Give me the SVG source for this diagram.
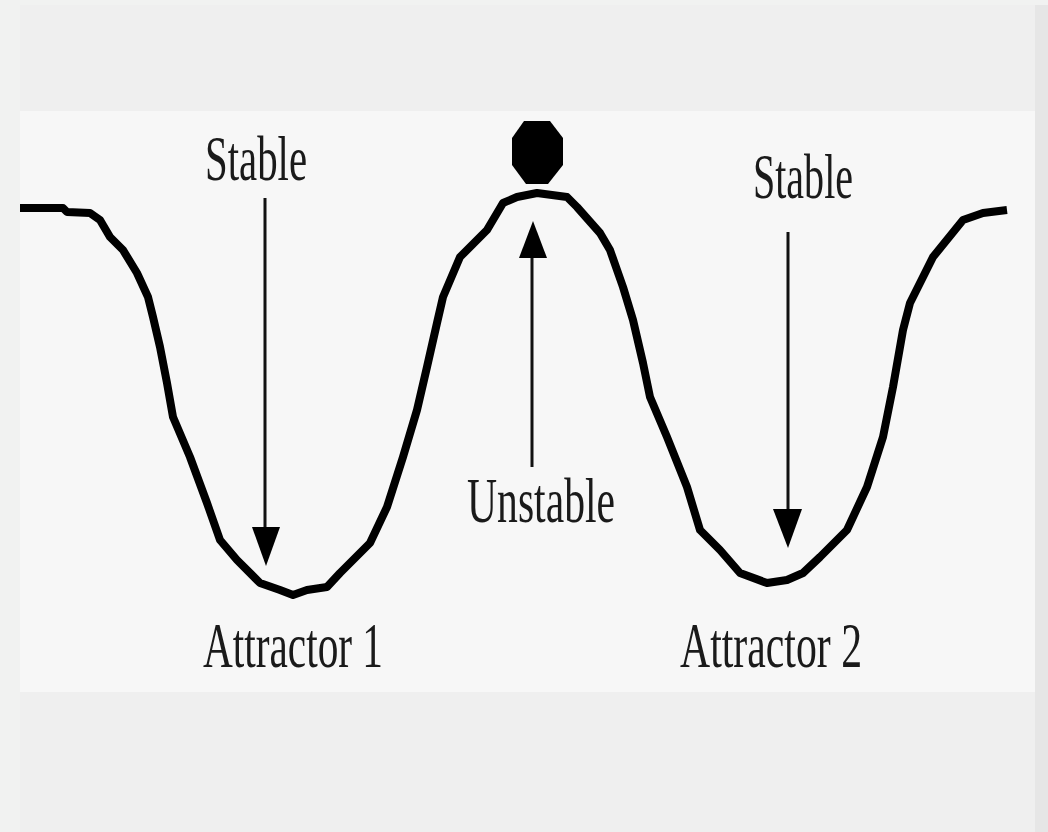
<svg xmlns="http://www.w3.org/2000/svg" width="1048" height="832" viewBox="0 0 1048 832">
<defs>
<style>
.lbl{font-family:"Liberation Serif","DejaVu Serif",serif;font-size:64px;fill:#1a1a1a}
.conn{stroke:#111;stroke-width:3;fill:none}
.head{fill:#000}
.curve{stroke:#000;stroke-width:8;fill:none;stroke-linejoin:round;stroke-linecap:butt}
</style>
</defs>
<rect x="0" y="0" width="1048" height="832" fill="#f1f2f1"/>
<rect x="20" y="5" width="1015" height="827" fill="#efefef"/>
<rect x="1035" y="5" width="13" height="827" fill="#e6e6e6"/>
<rect x="20" y="111" width="1015" height="581" fill="#f7f7f7"/>
<g id="landscape">
<path class="curve" d="M20,208 L63,208 L67,212 L90,213 L100,220 L110,237 L123,250 L137,273 L148,297 L153,317 L160,347 L167,383 L173,417 L190,457 L207,503 L220,540 L237,560 L260,583 L280,590 L293,595 L307,590 L327,587 L340,573 L370,543 L387,507 L403,457 L417,410 L427,367 L437,323 L443,297 L460,257 L487,230 L503,203 L517,197 L537,193 L567,197 L577,207 L600,233 L610,250 L623,287 L633,320 L643,363 L650,397 L667,437 L687,487 L700,530 L720,550 L740,573 L767,583 L787,580 L803,573 L820,557 L847,530 L867,487 L883,437 L893,387 L903,330 L910,303 L933,257 L963,220 L983,213 L1007,210"/>
</g>
<g id="ball">
<polygon points="524,121 550,121 563,138 563,165 548,184 526,184 512,165 512,138" fill="#000"/>
</g>
<g id="connectors">
<line class="conn" x1="265" y1="198" x2="265" y2="535"/>
<polygon class="head" points="252,527 280,527 266,566"/>
<line class="conn" x1="532" y1="467" x2="532" y2="250"/>
<polygon class="head" points="519,258 547,258 533,221"/>
<line class="conn" x1="788" y1="232" x2="788" y2="515"/>
<polygon class="head" points="773,509 802,509 788,548"/>
</g>
<g id="label-stable-1"><text class="lbl" x="205" y="180" textLength="102" lengthAdjust="spacingAndGlyphs">Stable</text></g>
<g id="label-stable-2"><text class="lbl" x="753" y="198" textLength="100" lengthAdjust="spacingAndGlyphs">Stable</text></g>
<g id="label-unstable"><text class="lbl" x="467" y="522" textLength="148" lengthAdjust="spacingAndGlyphs">Unstable</text></g>
<g id="label-attractor-1"><text class="lbl" x="203" y="667" textLength="180" lengthAdjust="spacingAndGlyphs">Attractor 1</text></g>
<g id="label-attractor-2"><text class="lbl" x="680" y="667" textLength="182" lengthAdjust="spacingAndGlyphs">Attractor 2</text></g>
</svg>
